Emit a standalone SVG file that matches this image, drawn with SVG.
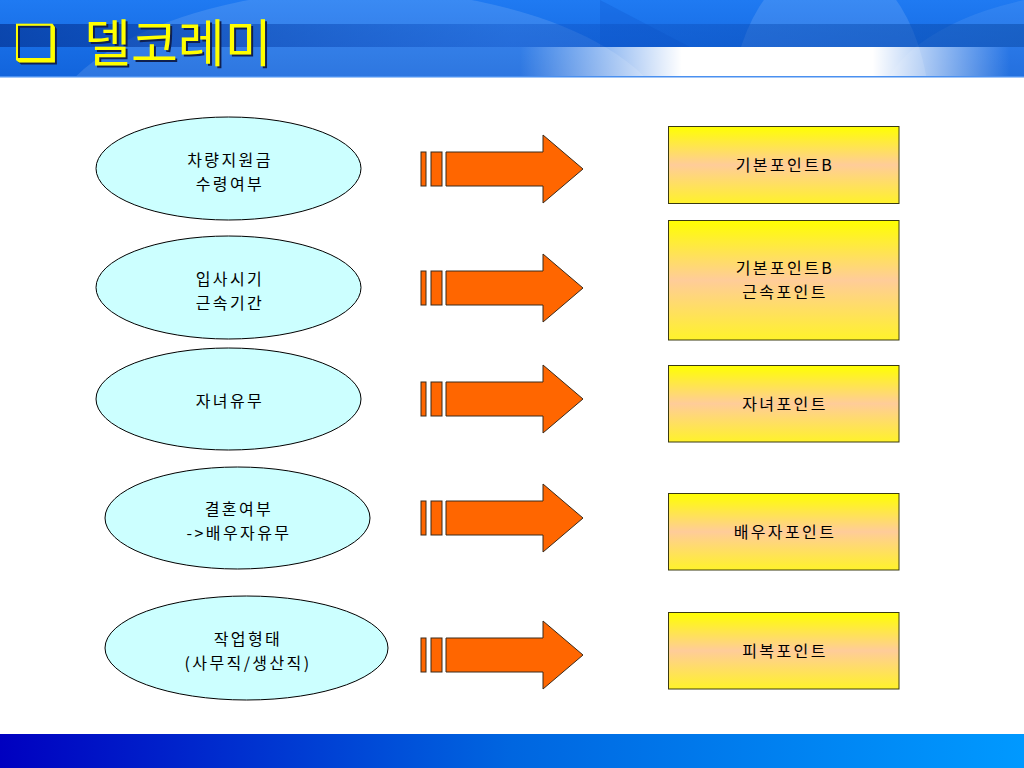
<svg xmlns="http://www.w3.org/2000/svg" width="1024" height="768" viewBox="0 0 1024 768">
<style>
.ell{fill:#CCFFFF;stroke:#000;stroke-width:1}
.box{fill:url(#boxg);stroke:#3a3a10;stroke-width:1}
.lbl{font-family:"Noto Sans CJK KR","Noto Sans",sans-serif;font-size:16px;fill:#000;text-anchor:middle;letter-spacing:2.4px}
.arr{fill:#FF6600;stroke:#3a2a1a;stroke-width:1}
.ttl{font-family:"Noto Sans CJK KR",sans-serif;font-size:51px}
.chk{font-family:"DejaVu Sans",sans-serif;font-size:50px}
</style>
<defs>
<linearGradient id="hdr" x1="0" y1="0" x2="0" y2="1">
<stop offset="0" stop-color="#1f7af2"/>
<stop offset="1" stop-color="#1264dc"/>
</linearGradient>
<linearGradient id="band" x1="0" y1="0" x2="1" y2="0">
<stop offset="0" stop-color="#06389a" stop-opacity="0.75"/>
<stop offset="0.5" stop-color="#0a4cc0" stop-opacity="0.35"/>
<stop offset="1" stop-color="#0a4aa8" stop-opacity="0.55"/>
</linearGradient>
<linearGradient id="glow" gradientUnits="userSpaceOnUse" x1="520" y1="0" x2="1010" y2="0">
<stop offset="0" stop-color="#ffffff" stop-opacity="0"/>
<stop offset="0.33" stop-color="#ffffff" stop-opacity="1"/>
<stop offset="0.72" stop-color="#ffffff" stop-opacity="1"/>
<stop offset="1" stop-color="#ffffff" stop-opacity="0"/>
</linearGradient>
<linearGradient id="foot" x1="0" y1="0" x2="1" y2="0">
<stop offset="0" stop-color="#0000C0"/>
<stop offset="0.5" stop-color="#0066E0"/>
<stop offset="1" stop-color="#0099FF"/>
</linearGradient>
<linearGradient id="boxg" x1="0" y1="0" x2="0" y2="1">
<stop offset="0" stop-color="#FFFF00"/>
<stop offset="0.5" stop-color="#FFCC99"/>
<stop offset="1" stop-color="#FFF22A"/>
</linearGradient>
<clipPath id="hc"><rect x="0" y="0" width="1024" height="77"/></clipPath>
<g id="arrow">
<rect class="arr" x="421" y="-17" width="5" height="34"/>
<rect class="arr" x="431" y="-17" width="11" height="34"/>
<path class="arr" d="M446,-17 H543 V-34 L583,0 L543,34 V17 H446 Z"/>
</g>
</defs>

<rect x="0" y="0" width="1024" height="768" fill="#ffffff"/>

<g id="header">
<rect x="0" y="0" width="1024" height="77" fill="url(#hdr)"/>
<g clip-path="url(#hc)">
<ellipse cx="360" cy="150" rx="320" ry="160" fill="#ffffff" opacity="0.12"/>
<ellipse cx="830" cy="120" rx="100" ry="160" fill="#ffffff" opacity="0.12"/>
<ellipse cx="1120" cy="110" rx="240" ry="120" fill="#ffffff" opacity="0.08"/>
<path d="M600,0 L690,47 L600,47 Z" fill="#0a50c8" opacity="0.25"/>
<rect x="0" y="24" width="1024" height="23" fill="url(#band)"/>
<rect x="0" y="47" width="1024" height="30" fill="url(#glow)"/>
</g>
<rect x="0" y="76" width="1024" height="1.5" fill="#4a90f0"/>
</g>

<g id="title">
<text class="chk" x="15" y="62" fill="#102050">❑</text>
<text class="chk" x="13" y="60" fill="#FFFF00">❑</text>
<text class="ttl" x="86" y="64" fill="#102050">델코레미</text>
<text class="ttl" x="84" y="62" fill="#FFFF00">델코레미</text>
</g>

<rect id="footer" x="0" y="734" width="1024" height="34" fill="url(#foot)"/>

<g id="connectors">
<use href="#arrow" y="169"/>
<use href="#arrow" y="288"/>
<use href="#arrow" y="399"/>
<use href="#arrow" y="518"/>
<use href="#arrow" y="655"/>
</g>

<g id="e1">
<ellipse class="ell" cx="228.5" cy="168.5" rx="132.5" ry="51.5"/>
<text class="lbl" x="230" y="165.5">차량지원금</text>
<text class="lbl" x="230" y="189.5">수령여부</text>
</g>
<g id="e2">
<ellipse class="ell" cx="228.5" cy="287.5" rx="132.5" ry="51.5"/>
<text class="lbl" x="230" y="284.5">입사시기</text>
<text class="lbl" x="230" y="308.5">근속기간</text>
</g>
<g id="e3">
<ellipse class="ell" cx="228.5" cy="399" rx="132.5" ry="51"/>
<text class="lbl" x="230" y="406.5">자녀유무</text>
</g>
<g id="e4">
<ellipse class="ell" cx="237.5" cy="518" rx="132.5" ry="51"/>
<text class="lbl" x="239" y="515">결혼여부</text>
<text class="lbl" x="239" y="539">-&gt;배우자유무</text>
</g>
<g id="e5">
<ellipse class="ell" cx="246.5" cy="648" rx="141.5" ry="52"/>
<text class="lbl" x="248" y="645">작업형태</text>
<text class="lbl" x="248" y="669">(사무직/생산직)</text>
</g>

<g id="r1">
<rect class="box" x="668.5" y="126.5" width="230.5" height="77"/>
<text class="lbl" x="785" y="171">기본포인트B</text>
</g>
<g id="r2">
<rect class="box" x="668.5" y="220.5" width="230.5" height="119.5"/>
<text class="lbl" x="785" y="274">기본포인트B</text>
<text class="lbl" x="785" y="298">근속포인트</text>
</g>
<g id="r3">
<rect class="box" x="668.5" y="365.5" width="230.5" height="76.5"/>
<text class="lbl" x="785" y="409.5">자녀포인트</text>
</g>
<g id="r4">
<rect class="box" x="668.5" y="493.5" width="230.5" height="76.5"/>
<text class="lbl" x="785" y="537.5">배우자포인트</text>
</g>
<g id="r5">
<rect class="box" x="668.5" y="612.5" width="230.5" height="76.5"/>
<text class="lbl" x="785" y="656.5">피복포인트</text>
</g>
</svg>
